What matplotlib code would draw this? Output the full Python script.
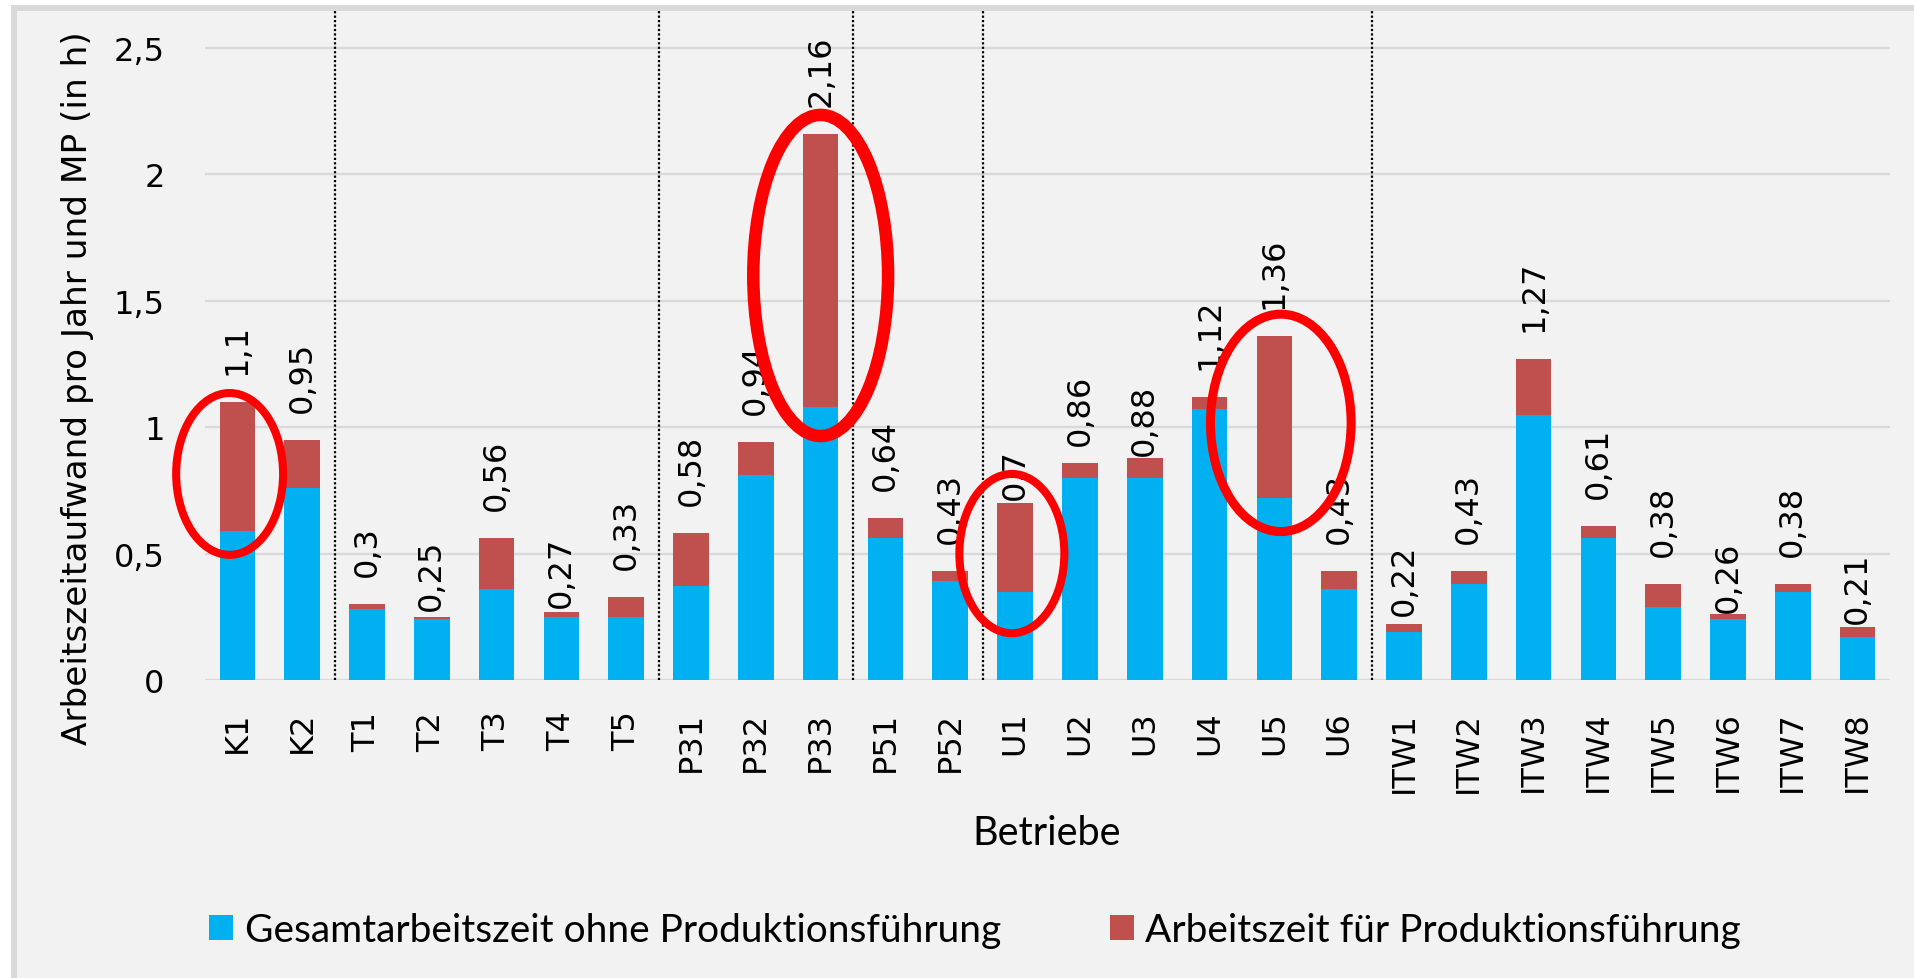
import matplotlib
matplotlib.use('Agg')
import matplotlib.pyplot as plt
from matplotlib.patches import Ellipse, Rectangle, Patch
import numpy as np

# Betriebe on the x axis
categories = ['K1', 'K2', 'T1', 'T2', 'T3', 'T4', 'T5',
              'P31', 'P32', 'P33', 'P51', 'P52',
              'U1', 'U2', 'U3', 'U4', 'U5', 'U6',
              'ITW1', 'ITW2', 'ITW3', 'ITW4', 'ITW5', 'ITW6', 'ITW7', 'ITW8']

# total hours per year and MP (the printed labels)
totals = [1.10, 0.95, 0.30, 0.25, 0.56, 0.27, 0.33,
          0.58, 0.94, 2.16, 0.64, 0.43,
          0.70, 0.86, 0.88, 1.12, 1.36, 0.43,
          0.22, 0.43, 1.27, 0.61, 0.38, 0.26, 0.38, 0.21]

# part without Produktionsführung (blue)
ohne_pf = [0.59, 0.76, 0.28, 0.24, 0.36, 0.25, 0.25,
           0.37, 0.81, 1.08, 0.56, 0.39,
           0.35, 0.80, 0.80, 1.07, 0.72, 0.36,
           0.19, 0.38, 1.05, 0.56, 0.29, 0.24, 0.35, 0.17]

series_names = ['Gesamtarbeitszeit ohne Produktionsführung',
                'Arbeitszeit für Produktionsführung']

# last category of each group -> dotted separator after it
group_ends = ['K2', 'T5', 'P33', 'P52', 'U6']

# highlighted bars (red ellipses)
highlight = ['K1', 'P33', 'U1', 'U5']

BLUE = '#00B0F0'
RED = '#C0504D'
GRID = '#D9D9D9'
BG = '#F2F2F2'

# ellipse geometry relative to the bar: (dx, y center, width, height, lw)
ellipse_style = {'K1': (-0.12, 0.815, 1.65, 0.64, 5.8),
                 'P33': (0.0, 1.60, 2.08, 1.27, 9.0),
                 'U1': (-0.05, 0.50, 1.62, 0.63, 5.8),
                 'U5': (0.10, 1.017, 2.17, 0.86, 6.5)}

# label gap above the bar in pixels (Excel moved some labels)
label_gap_px = {'T2': 7, 'T4': 5, 'U1': 4, 'U2': 18, 'U3': 3,
                'ITW1': 9, 'ITW6': 2, 'ITW8': 4}
DEFAULT_GAP = 28


def fmt(v):
    """German number format: comma decimal, no trailing zeros."""
    s = ('%.2f' % v).rstrip('0').rstrip('.')
    return s.replace('.', ',')


W, H = 1914, 979
fig = plt.figure(figsize=(W / 100, H / 100), dpi=100)
fig.patch.set_facecolor('white')

# chart area frame (grey border visible on top and left only)
fig.patches.append(Rectangle((14 / W, -0.02), 1.05, (H - 9) / H + 0.02,
                             transform=fig.transFigure, facecolor=BG,
                             edgecolor=GRID, linewidth=4.3, zorder=-5))

ax = fig.add_axes([205 / W, (H - 681) / H, (1890 - 205) / W, (681 - 11) / H])
ax.set_zorder(2)
ax.set_facecolor('none')

x = np.arange(len(categories))
blue = np.array(ohne_pf)
red = np.array(totals) - blue

ax.bar(x, blue, width=0.55, color=BLUE, zorder=2)
ax.bar(x, red, width=0.55, bottom=blue, color=RED, zorder=2)

ax.set_xlim(-0.5, len(categories) - 0.5)
ax.set_ylim(0, 2.65)
yt = [0, 0.5, 1, 1.5, 2, 2.5]
ax.set_yticks(yt)
ax.set_yticklabels([fmt(v) for v in yt])
for v in yt:
    ax.plot([0, 1], [v, v], transform=ax.get_yaxis_transform(),
            color=GRID, lw=1.7, zorder=1, solid_capstyle='butt')

ax.set_xticks(x)
ax.set_xticklabels(categories, rotation=90)
ax.tick_params(axis='x', length=0, pad=22, labelsize=23)
ax.tick_params(axis='y', length=0, pad=29, labelsize=23)
for s in ax.spines.values():
    s.set_visible(False)

# dotted group separators
for name in group_ends:
    i = categories.index(name)
    ax.axvline(i + 0.5, color='black', lw=1.6, linestyle=(0, (1, 1)),
               zorder=1)

# total labels
for i, (name, t) in enumerate(zip(categories, totals)):
    gap = label_gap_px.get(name, DEFAULT_GAP) * 0.72
    ax.annotate(fmt(t), (i, t), xytext=(0, gap), textcoords='offset points',
                rotation=90, ha='center', va='bottom', fontsize=23,
                zorder=4)

# red ellipses
for name in highlight:
    i = categories.index(name)
    dx, cy, w, h, lw = ellipse_style[name]
    ax.add_patch(Ellipse((i + dx, cy), w, h, fill=False, edgecolor='#FF0000',
                         linewidth=lw, zorder=6, clip_on=False))

fig.text(78 / W, (H - 388) / H, 'Arbeitszeitaufwand pro Jahr und MP (in h)',
         rotation=90, ha='center', va='center', fontsize=24.7)
fig.text(1047 / W, (H - 834) / H, 'Betriebe', ha='center', va='center',
         fontsize=28.5, family='Lato')

handles = [Patch(facecolor=BLUE), Patch(facecolor=RED)]
fig.legend(handles, series_names, loc='center', ncol=2,
           bbox_to_anchor=(975 / W, (H - 931) / H), frameon=False,
           prop={'family': 'Lato', 'size': 28}, handlelength=0.62,
           handleheight=0.6, handletextpad=0.3, columnspacing=2.8)

fig.savefig('out.png', dpi=100)
